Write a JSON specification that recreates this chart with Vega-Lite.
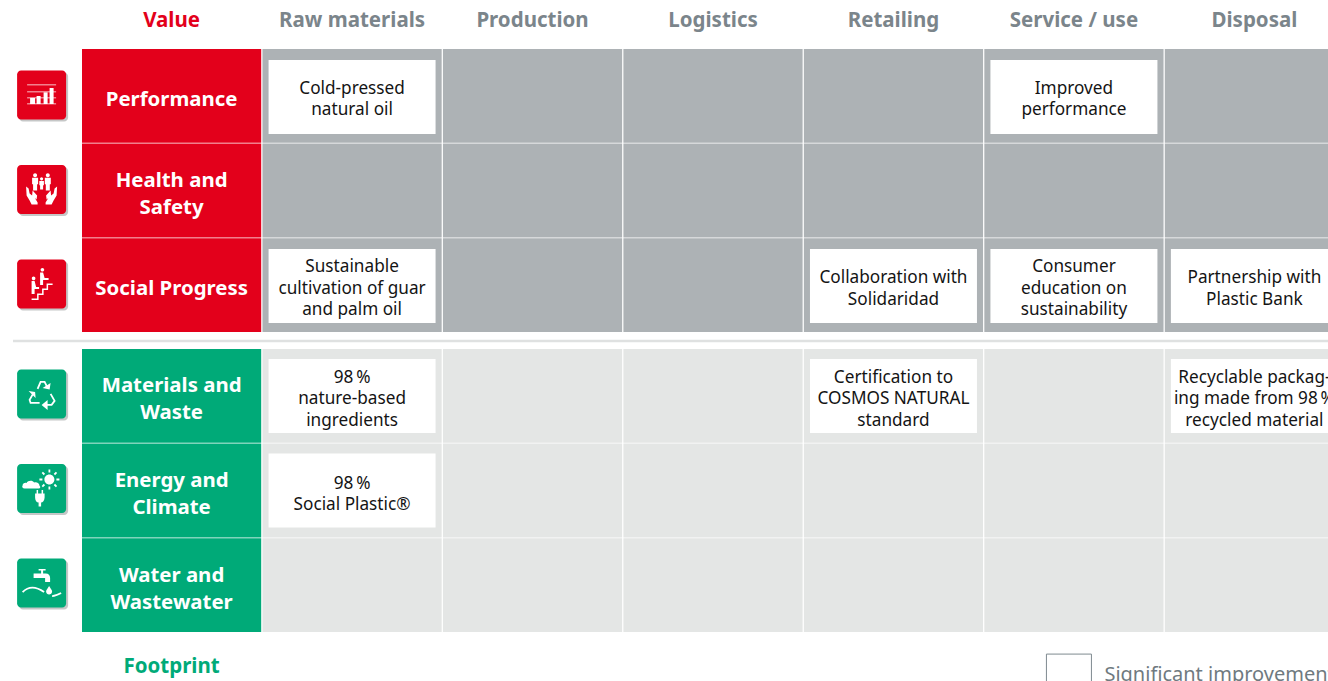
{
"$schema":"https://vega.github.io/schema/vega-lite/v6.json",
"padding":{"left":11,"top":10,"right":0,"bottom":0},
"background":"white",
"bounds":"flush",
"spacing":17,
"config":{"view":{"stroke":null},"text":{"font":"Noto Sans"},"axis":{"labelFont":"Noto Sans"}},
"datasets":{
"value":[
{"row":"Performance","column":"Value","label":"Performance","lines":1},
{"row":"Performance","column":"Raw materials","label":"Cold-pressed\nnatural oil","lines":2},
{"row":"Performance","column":"Production"},
{"row":"Performance","column":"Logistics"},
{"row":"Performance","column":"Retailing"},
{"row":"Performance","column":"Service / use","label":"Improved\nperformance","lines":2},
{"row":"Performance","column":"Disposal"},
{"row":"Health and Safety","column":"Value","label":"Health and\nSafety","lines":2},
{"row":"Health and Safety","column":"Raw materials"},
{"row":"Health and Safety","column":"Production"},
{"row":"Health and Safety","column":"Logistics"},
{"row":"Health and Safety","column":"Retailing"},
{"row":"Health and Safety","column":"Service / use"},
{"row":"Health and Safety","column":"Disposal"},
{"row":"Social Progress","column":"Value","label":"Social Progress","lines":1},
{"row":"Social Progress","column":"Raw materials","label":"Sustainable\ncultivation of guar\nand palm oil","lines":3},
{"row":"Social Progress","column":"Production"},
{"row":"Social Progress","column":"Logistics"},
{"row":"Social Progress","column":"Retailing","label":"Collaboration with\nSolidaridad","lines":2},
{"row":"Social Progress","column":"Service / use","label":"Consumer\neducation on\nsustainability","lines":3},
{"row":"Social Progress","column":"Disposal","label":"Partnership with\nPlastic Bank","lines":2}
],
"footprint":[
{"row":"Materials and Waste","column":"Value","label":"Materials and\nWaste","lines":2},
{"row":"Materials and Waste","column":"Raw materials","label":"98\u2009%\nnature-based\ningredients","lines":3},
{"row":"Materials and Waste","column":"Production"},
{"row":"Materials and Waste","column":"Logistics"},
{"row":"Materials and Waste","column":"Retailing","label":"Certification to\nCOSMOS NATURAL\nstandard","lines":3},
{"row":"Materials and Waste","column":"Service / use"},
{"row":"Materials and Waste","column":"Disposal","label":"Recyclable packag-\ning made from 98\u2009%\nrecycled material","lines":3},
{"row":"Energy and Climate","column":"Value","label":"Energy and\nClimate","lines":2},
{"row":"Energy and Climate","column":"Raw materials","label":"98\u2009%\nSocial Plastic®","lines":2},
{"row":"Energy and Climate","column":"Production"},
{"row":"Energy and Climate","column":"Logistics"},
{"row":"Energy and Climate","column":"Retailing"},
{"row":"Energy and Climate","column":"Service / use"},
{"row":"Energy and Climate","column":"Disposal"},
{"row":"Water and Wastewater","column":"Value","label":"Water and\nWastewater","lines":2},
{"row":"Water and Wastewater","column":"Raw materials"},
{"row":"Water and Wastewater","column":"Production"},
{"row":"Water and Wastewater","column":"Logistics"},
{"row":"Water and Wastewater","column":"Retailing"},
{"row":"Water and Wastewater","column":"Service / use"},
{"row":"Water and Wastewater","column":"Disposal"}
],
"key":[{"row":"Water and Wastewater","column":"Service / use","label":"Significant improvement"}]
},
"vconcat":[
{
"width":1262,"height":283,
"data":{"name":"value"},
"encoding":{
"x":{"field":"column","type":"nominal","scale":{"type":"band","domain":["Value","Raw materials","Production","Logistics","Retailing","Service / use","Disposal"],"paddingInner":0.007,"paddingOuter":0},"axis":{"orient":"top","title":null,"ticks":false,"domain":false,"labelAngle":0,"labelFontSize":20.5,"labelFontWeight":"bold","labelPadding":19,"labelOverlap":false,"labelColor":{"condition":{"test":"datum.value==='Value'","value":"#e3001b"},"value":"#7b858b"}}},
"y":{"field":"row","type":"nominal","scale":{"type":"band","domain":["Performance","Health and Safety","Social Progress"],"paddingInner":0.008,"paddingOuter":0},"axis":null}
},
"layer":[
{"mark":{"type":"rect"},"encoding":{"color":{"condition":{"test":"datum.column==='Value'","value":"#e3001b"},"value":"#adb2b5"}}},
{"transform":[{"filter":"datum.column!=='Value' && datum.label"}],"mark":{"type":"rect","width":167,"height":74,"fill":"white","yOffset":1}},
{"transform":[{"filter":"datum.column!=='Value' && datum.lines===2"}],"mark":{"type":"text","fontSize":17.2,"lineHeight":21.5,"lineBreak":"\n","color":"#141414","yOffset":-7},"encoding":{"text":{"field":"label"}}},
{"transform":[{"filter":"datum.column!=='Value' && datum.lines===3"}],"mark":{"type":"text","fontSize":17.2,"lineHeight":21.5,"lineBreak":"\n","color":"#141414","yOffset":-18},"encoding":{"text":{"field":"label"}}},
{"transform":[{"filter":"datum.column==='Value' && datum.lines===1"}],"mark":{"type":"text","fontSize":20.4,"fontWeight":"bold","color":"white","yOffset":4},"encoding":{"text":{"field":"label"}}},
{"transform":[{"filter":"datum.column==='Value' && datum.lines===2"}],"mark":{"type":"text","fontSize":20.4,"fontWeight":"bold","lineHeight":27,"lineBreak":"\n","color":"white","yOffset":-10},"encoding":{"text":{"field":"label"}}},
{"transform":[{"filter":"datum.column==='Value'"}],"mark":{"type":"rect","width":49,"height":49,"cornerRadius":4,"xOffset":-128,"yOffset":1,"fill":"#8b8f8f","opacity":0.5}},
{"transform":[{"filter":"datum.column==='Value'"}],"mark":{"type":"rect","width":49,"height":49,"cornerRadius":4,"xOffset":-130,"yOffset":-1,"fill":"#e3001b"}},
{"transform":[{"filter":"datum.column==='Value'"}],"mark":{"type":"point","size":4,"filled":true,"opacity":1,"fill":"white","strokeWidth":0,"xOffset":-130,"yOffset":-1},
"encoding":{"shape":{"field":"row","legend":null,"scale":{"domain":["Performance","Health and Safety","Social Progress"],"range":[
"M-14.5 -10.4H14.5V-9.6H-14.5Z M-14.5 -3.4H14.5V-2.6H-14.5Z M-14.5 2.6H14.5V3.4H-14.5Z M-14.5 8.6H14.5V9.4H-14.5Z M-11.5 3H-6.5V9H-11.5Z M-5 1H-1V9H-5Z M2 -2.5H6V9H2Z M8 -7H12V9H8Z",
"M-8.5 -14.3a2 2 0 1 0 4 0a2 2 0 1 0 -4 0Z M4.2 -14.3a2 2 0 1 0 4 0a2 2 0 1 0 -4 0Z M-1.6 -10.7a1.6 1.6 0 1 0 3.2 0a1.6 1.6 0 1 0 -3.2 0Z M-9.5 -11.8H-3.5V-5.5L-4.5 -5V1H-8.5V-5L-9.5 -5.5Z M3.2 -11.8H9.2V-5.5L8.2 -5V1H4.2V-5L3.2 -5.5Z M-2.3 -8.5H2.3V-4.5L1.5 -4V0H-1.5V-4L-2.3 -4.5Z M-15.5 -3L-13 -1L-12 4L-7 8L-4 13V15H-10L-12 11L-15 6Z M15.5 -3L13 -1L12 4L7 8L4 13V15H10L12 11L15 6Z M-9 1L-4.5 6L-5 10L-9.5 6Z M9 1L4.5 6L5 10L9.5 6Z",
"M-1 -14.3a1.8 1.8 0 1 0 3.6 0a1.8 1.8 0 1 0 -3.6 0Z M-9.8 -5.7a1.8 1.8 0 1 0 3.6 0a1.8 1.8 0 1 0 -3.6 0Z M-1.5 -11.5H1.5L3 -6H7V-4H1.5V1H-1.5Z M-10 -3H-7L-5.5 3H-2.5V5H-7V10H-10Z M-10 14.5H-4.5V9.5H0.5V4.5H5V-0.5H11V1H6.5V6H2V11H-3V16H-10Z"
]}}}},
{"data":{"values":[{"row":"Social Progress","column":"Value"}]},"mark":{"type":"rule","color":"#dfe1e1","strokeWidth":2.5,"yOffset":9,"xOffset":-69,"x2Offset":200},
"encoding":{"x":{"datum":"Value","bandPosition":0},"x2":{"datum":"Disposal"},"y":{"datum":"Social Progress","bandPosition":1}}}
]
},
{
"width":1262,"height":283,
"data":{"name":"footprint"},
"encoding":{
"x":{"field":"column","type":"nominal","scale":{"type":"band","domain":["Value","Raw materials","Production","Logistics","Retailing","Service / use","Disposal"],"paddingInner":0.007,"paddingOuter":0},"axis":{"orient":"bottom","title":null,"ticks":false,"domain":false,"labelAngle":0,"labelFontSize":20.5,"labelFontWeight":"bold","labelPadding":24,"labelOverlap":false,"labelColor":"#00aa78","labelExpr":"datum.value==='Value'?'Footprint':''"}},
"y":{"field":"row","type":"nominal","scale":{"type":"band","domain":["Materials and Waste","Energy and Climate","Water and Wastewater"],"paddingInner":0.008,"paddingOuter":0},"axis":null}
},
"resolve":{"scale":{"shape":"independent"}},
"layer":[
{"mark":{"type":"rect"},"encoding":{"color":{"condition":{"test":"datum.column==='Value'","value":"#00aa78"},"value":"#e4e6e5"}}},
{"transform":[{"filter":"datum.column!=='Value' && datum.label"}],"mark":{"type":"rect","width":167,"height":74,"fill":"white"}},
{"transform":[{"filter":"datum.column!=='Value' && datum.lines===2"}],"mark":{"type":"text","fontSize":17.2,"lineHeight":21.5,"lineBreak":"\n","color":"#141414","yOffset":-7},"encoding":{"text":{"field":"label"}}},
{"transform":[{"filter":"datum.column!=='Value' && datum.lines===3"}],"mark":{"type":"text","fontSize":17.2,"lineHeight":21.5,"lineBreak":"\n","color":"#141414","yOffset":-18},"encoding":{"text":{"field":"label"}}},
{"transform":[{"filter":"datum.column==='Value'"}],"mark":{"type":"text","fontSize":20.4,"fontWeight":"bold","lineHeight":27,"lineBreak":"\n","color":"white","yOffset":-9.5},"encoding":{"text":{"field":"label"}}},
{"transform":[{"filter":"datum.column==='Value'"}],"mark":{"type":"rect","width":49,"height":49,"cornerRadius":4,"xOffset":-128,"yOffset":0,"fill":"#8b8f8f","opacity":0.5}},
{"transform":[{"filter":"datum.column==='Value'"}],"mark":{"type":"rect","width":49,"height":49,"cornerRadius":4,"xOffset":-130,"yOffset":-2,"fill":"#00aa78"}},
{"transform":[{"filter":"datum.column==='Value'"}],"mark":{"type":"point","size":4,"filled":true,"opacity":1,"fill":"white","strokeWidth":0,"xOffset":-130,"yOffset":-2},
"encoding":{"shape":{"field":"row","legend":null,"scale":{"domain":["Materials and Waste","Energy and Climate","Water and Wastewater"],"range":[
"M1 -6L8 -4.5L9 -11Z M-13 -3L-6.5 -2L-6 4Z M6 6L0 11L6 16Z",
"M2.8 -9a5 5 0 1 0 10 0a5 5 0 1 0 -10 0Z M-19 -3C-19 -5 -17 -6 -15 -5.5C-14 -8 -9 -8.5 -7.5 -6C-5 -7 -2 -5 -2 -2.5C-1 -2 -1 0 -3 0H-17C-19 0 -20 -2 -19 -3Z M-5 1.5H-3.5V5H-5Z M0 1.5H1.5V5H0Z M-6.5 5H3V9C3 12 1 14 -0.5 14V18H-3V14C-5 14 -6.5 12 -6.5 9Z",
"M-8 -9.5H4C7 -9.5 8.5 -7.5 8.5 -5V-1H3.5V-5H-8Z M-3 -14H4V-12.5H1.5V-9.5H-0.5V-12.5H-3Z M7.5 3C9 5.5 10.5 7 10.5 8.5C10.5 10.5 9 11.5 7.5 11.5C6 11.5 4.5 10.5 4.5 8.5C4.5 7 6 5.5 7.5 3Z"
]}}}},
{"transform":[{"filter":"datum.column==='Value'"}],"mark":{"type":"point","size":4,"filled":false,"opacity":1,"fill":null,"stroke":"white","strokeWidth":1.8,"xOffset":-130,"yOffset":-2},
"encoding":{"shape":{"field":"row","legend":null,"scale":{"domain":["Materials and Waste","Energy and Climate","Water and Wastewater"],"range":[
"M-4 -5L-1 -12H3L6 -6 M-2 9H-11L-12 6L-8 -1 M2 11H10L13 7L9 0",
"M7.8 -19V-16 M7.8 -2V1 M-2.2 -9H0.8 M14.8 -9H17.8 M0.7 -16.1L2.8 -14 M12.8 -4L14.9 -1.9 M0.7 -1.9L2.8 -4 M12.8 -14L14.9 -16.1",
"M-19 9C-13 3 -6 3 2.5 9 M10.5 13C13 13 16 12 19.5 10"
]}}}},
{"data":{"name":"key"},"mark":{"type":"rect","width":45,"height":46,"fill":"white","stroke":"#7f8a90","strokeWidth":1,"xOffset":-5,"yOffset":92}},
{"data":{"name":"key"},"mark":{"type":"text","align":"left","fontSize":20,"color":"#6f7a80","xOffset":30.5,"yOffset":90},"encoding":{"text":{"field":"label"}}}
]
}
]
}
